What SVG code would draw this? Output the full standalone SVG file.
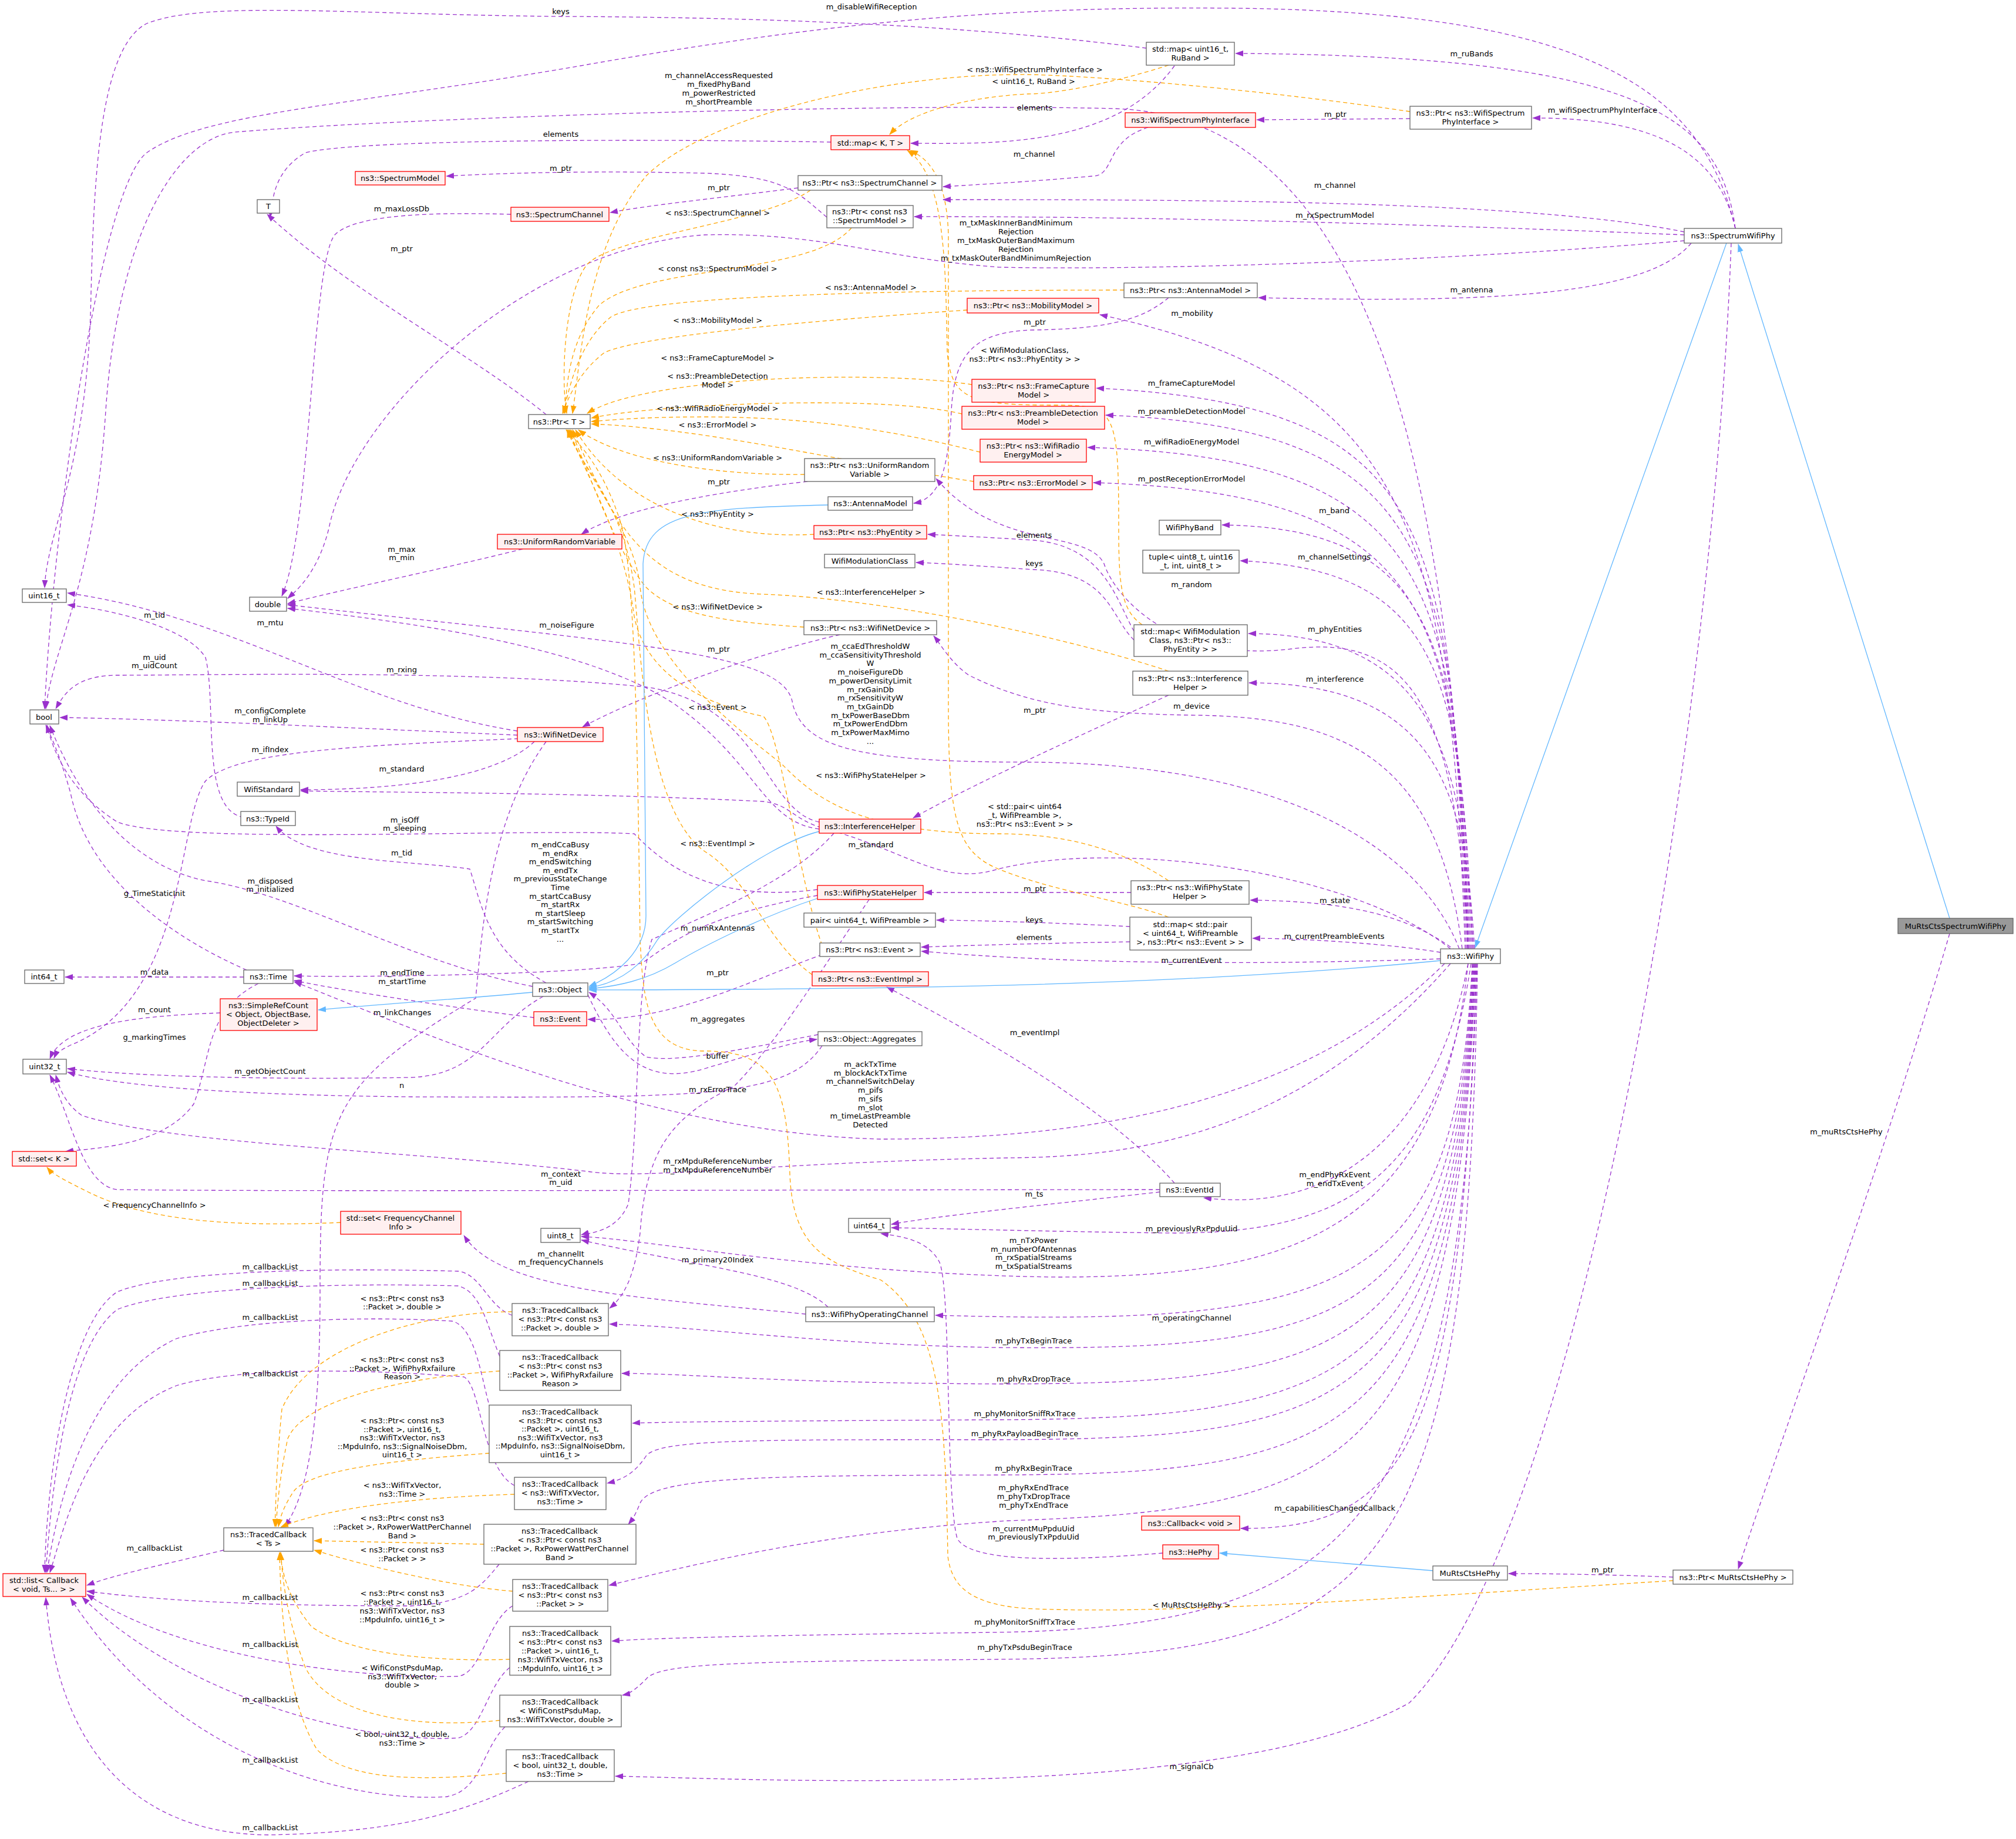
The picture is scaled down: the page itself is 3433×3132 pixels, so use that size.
<svg xmlns="http://www.w3.org/2000/svg" width="3433" height="3132" viewBox="0 0 3433 3132">
<style>
text{font-family:"DejaVu Sans","Liberation Sans",sans-serif;font-size:13px;fill:#000;text-anchor:middle}
.n rect{fill:#fff;stroke:#666;stroke-width:1.3}
.r rect{fill:#fff0f0;stroke:#f00;stroke-width:1.3}
.g rect{fill:#999;stroke:#666;stroke-width:1.3}
.p{fill:none;stroke:#9a32cd;stroke-width:1.3;stroke-dasharray:7,5;marker-end:url(#ap)}
.o{fill:none;stroke:#ffa500;stroke-width:1.3;stroke-dasharray:7,5;marker-end:url(#ao)}
.b{fill:none;stroke:#63b8ff;stroke-width:1.3;marker-end:url(#ab)}
</style>
<defs>
<marker id="ap" markerWidth="14" markerHeight="10" refX="13" refY="5" orient="auto" markerUnits="userSpaceOnUse"><path d="M0,0 L14,5 L0,10 z" fill="#9a32cd"/></marker>
<marker id="ao" markerWidth="14" markerHeight="10" refX="13" refY="5" orient="auto" markerUnits="userSpaceOnUse"><path d="M0,0 L14,5 L0,10 z" fill="#ffa500"/></marker>
<marker id="ab" markerWidth="14" markerHeight="10" refX="13" refY="5" orient="auto" markerUnits="userSpaceOnUse"><path d="M0,0 L14,5 L0,10 z" fill="#63b8ff"/></marker>
</defs>
<rect width="3433" height="3132" fill="#fff"/>
<g id="edges">
<path class="p" d="M1952,82 C1700,50 1400,30 955,28 C600,25 350,0 250,40 C170,80 160,300 155,500 C150,800 80,900 76,1001"/>
<path class="p" d="M2955,389 C2900,150 2700,20 2100,14 C1700,10 1400,40 1000,110 C600,180 350,190 250,260 C170,320 90,900 76,1207"/>
<path class="p" d="M2500,1616 C2470,700 2300,200 1900,185 C1500,175 700,200 400,225 C300,235 200,400 180,700 C160,1000 90,1100 78,1207"/>
<path class="p" d="M2000,112 C1900,250 1700,245 1551,244"/>
<path class="p" d="M1415,242 C1000,235 600,240 520,260 C470,290 465,330 460,370"/>
<path class="p" d="M2955,389 C2930,200 2800,95 2104,91"/>
<path class="p" d="M2955,389 C2930,280 2850,200 2610,201"/>
<path class="p" d="M2401,202 L2140,204"/>
<path class="p" d="M1955,217 C1880,240 1900,300 1860,300 C1750,310 1650,315 1606,318"/>
<path class="p" d="M2868,395 C2600,340 2000,340 1606,340"/>
<path class="p" d="M2868,400 C2500,385 2000,368 1557,369"/>
<path class="p" d="M2868,410 C2400,450 1900,460 1700,455 C1500,440 1400,395 1200,400 C900,420 600,700 560,900 C540,980 500,1010 490,1019"/>
<path class="p" d="M2880,414 C2800,510 2500,515 2143,507"/>
<path class="p" d="M1990,507 C1950,540 1900,560 1760,562 C1660,565 1625,600 1620,700 C1615,800 1600,850 1556,857"/>
<path class="p" d="M2495,1616 C2470,900 2400,650 1873,536"/>
<path class="p" d="M2497,1616 C2470,900 2450,690 1867,661"/>
<path class="p" d="M2499,1616 C2475,950 2450,730 1883,707"/>
<path class="p" d="M2501,1616 C2480,1000 2450,780 1852,762"/>
<path class="p" d="M2503,1616 C2480,1050 2450,840 1862,822"/>
<path class="p" d="M2505,1616 C2485,1100 2450,900 2081,894"/>
<path class="p" d="M2507,1616 C2490,1150 2450,970 2112,955"/>
<path class="p" d="M2500,1616 C2480,1200 2400,1080 2200,1105 C2000,1130 1900,1020 1880,960 C1850,900 1700,940 1594,815"/>
<path class="p" d="M1931,1075 C1900,1020 1880,930 1760,920 C1680,915 1620,912 1580,910"/>
<path class="p" d="M1931,1090 C1890,1050 1890,975 1760,970 C1680,965 1620,960 1560,958"/>
<path class="p" d="M2509,1616 C2490,1300 2450,1080 2126,1079"/>
<path class="p" d="M2511,1616 C2495,1350 2450,1163 2127,1163"/>
<path class="p" d="M2490,1616 C2450,1300 2300,1220 2029,1218 C1850,1215 1750,1200 1650,1150 C1620,1130 1600,1095 1590,1083"/>
<path class="p" d="M2485,1616 C2420,1450 2200,1300 1750,1298 C1450,1298 1370,1270 1350,1200 C1340,1110 1100,1100 490,1030"/>
<path class="p" d="M2480,1620 C2400,1560 2300,1535 2129,1533"/>
<path class="p" d="M2453,1622 C2350,1605 2200,1598 2133,1598"/>
<path class="p" d="M1924,1578 C1850,1574 1700,1568 1595,1567"/>
<path class="p" d="M1924,1604 C1800,1606 1650,1610 1569,1613"/>
<path class="p" d="M2453,1633 C2100,1645 1800,1640 1569,1620"/>
<path class="p" d="M2470,1616 C2300,1480 1900,1430 1700,1480 C1600,1510 1550,1450 1400,1410 C1350,1395 1345,1370 1300,1365 C1000,1350 700,1350 512,1347"/>
<path class="p" d="M1392,1515 C1200,1540 1120,1460 1080,1420 C900,1410 300,1440 200,1400 C120,1350 90,1280 80,1235"/>
<path class="p" d="M1392,1525 C1200,1560 1150,1600 1094,1640 C1000,1660 600,1665 501,1662"/>
<path class="p" d="M1359,320 C1200,340 1100,350 1039,362"/>
<path class="p" d="M1408,370 C1360,330 1340,300 1200,295 C1000,290 850,295 760,300"/>
<path class="p" d="M870,365 C700,360 600,370 570,400 C530,450 530,900 480,1015"/>
<path class="p" d="M930,706 C800,600 600,500 455,365"/>
<path class="p" d="M1375,820 C1200,840 1050,870 990,910"/>
<path class="p" d="M890,935 C750,970 600,1000 490,1028"/>
<path class="p" d="M1430,1081 C1300,1110 1100,1180 992,1238"/>
<path class="p" d="M1990,1184 C1800,1270 1650,1340 1555,1393"/>
<path class="p" d="M1926,1520 L1574,1520"/>
<path class="p" d="M3320,1590 C3200,2000 3050,2400 2960,2672"/>
<path class="p" d="M2948,414 C2920,1200 2700,2600 2400,2900 C2100,3070 1300,3030 1048,3025"/>
<path class="p" d="M2849,2686 C2750,2682 2650,2680 2569,2680"/>
<path class="p" d="M415,1392 C340,1380 370,1200 350,1120 C320,1070 200,1040 115,1030"/>
<path class="p" d="M881,1245 C600,1200 400,1050 115,1010"/>
<path class="p" d="M1395,1400 C1300,1380 1300,1200 1100,1170 C800,1140 350,1150 200,1150 C130,1150 110,1180 95,1207"/>
<path class="p" d="M881,1252 C600,1240 300,1225 102,1222"/>
<path class="p" d="M883,1258 C600,1270 400,1280 350,1330 C300,1400 320,1700 120,1780 C100,1790 95,1795 92,1802"/>
<path class="p" d="M910,1263 C850,1320 700,1345 512,1345"/>
<path class="p" d="M930,1263 C830,1400 820,1600 810,1700 C560,1850 545,1900 545,2200 C545,2450 520,2550 485,2600"/>
<path class="p" d="M1395,1412 C1300,1400 1290,1300 1150,1200 C1000,1100 700,1060 490,1036"/>
<path class="p" d="M1420,1419 C1350,1500 1200,1560 1110,1600 C1080,1700 1090,1900 1070,2050 C1050,2100 1000,2100 990,2103"/>
<path class="p" d="M420,1652 C300,1600 150,1500 120,1350 C100,1280 85,1250 78,1235"/>
<path class="p" d="M907,1680 C700,1640 500,1520 350,1500 C250,1480 150,1400 85,1236"/>
<path class="p" d="M930,1674 C830,1620 820,1540 800,1480 C700,1465 520,1470 470,1407"/>
<path class="p" d="M415,1664 L111,1664"/>
<path class="p" d="M375,1725 C250,1730 110,1740 85,1803"/>
<path class="p" d="M440,1675 C350,1720 360,1800 330,1880 C280,1950 170,1955 112,1961"/>
<path class="p" d="M925,1697 C830,1750 820,1830 700,1835 C400,1840 200,1830 115,1820"/>
<path class="p" d="M1400,1781 C1340,1870 1200,1870 700,1868 C400,1865 200,1850 115,1826"/>
<path class="p" d="M1001,1694 C1050,1800 1100,1850 1200,1820 C1300,1790 1350,1775 1391,1770"/>
<path class="p" d="M1393,1762 C1250,1790 1150,1810 1100,1800 C1060,1770 1050,1720 1003,1690"/>
<path class="p" d="M1400,1626 C1300,1660 1150,1740 1001,1736"/>
<path class="p" d="M909,1733 C800,1720 600,1690 501,1670"/>
<path class="p" d="M1480,1532 C1400,1650 1320,1780 1250,1850 C1150,1900 1100,1950 1090,2100 C1080,2180 1060,2210 1038,2228"/>
<path class="p" d="M2000,2015 C1900,1900 1700,1780 1510,1681"/>
<path class="p" d="M2500,1641 C2450,1900 2300,2070 2050,2040"/>
<path class="p" d="M1975,2030 C1800,2050 1600,2070 1518,2085"/>
<path class="p" d="M1975,2026 C1500,2026 500,2030 200,2026 C140,2020 120,1900 85,1831"/>
<path class="p" d="M2505,1641 C2450,2000 2300,2100 2000,2100 C1800,2098 1600,2092 1518,2091"/>
<path class="p" d="M2500,1641 C2450,2100 2200,2175 1800,2175 C1400,2170 1100,2110 990,2106"/>
<path class="p" d="M1372,2238 C1100,2210 850,2200 790,2104"/>
<path class="p" d="M1410,2226 C1350,2170 1200,2160 990,2112"/>
<path class="p" d="M2507,1641 C2480,2200 2300,2260 1593,2240"/>
<path class="p" d="M2508,1641 C2480,2250 2300,2300 1700,2295 C1400,2290 1200,2260 1038,2255"/>
<path class="p" d="M2509,1641 C2480,2300 2300,2357 1700,2357 C1300,2355 1200,2340 1059,2339"/>
<path class="p" d="M2510,1641 C2480,2350 2300,2415 1700,2418 C1300,2420 1100,2422 1077,2424"/>
<path class="p" d="M2511,1641 C2480,2400 2300,2450 1700,2452 C1300,2452 1120,2450 1100,2480 C1080,2510 1060,2520 1034,2526"/>
<path class="p" d="M2512,1641 C2480,2450 2300,2510 1700,2512 C1300,2513 1110,2515 1090,2560 C1080,2585 1075,2590 1070,2596"/>
<path class="p" d="M2513,1641 C2480,2500 2300,2570 1716,2590 C1400,2610 1200,2660 1037,2700"/>
<path class="p" d="M2514,1641 C2490,2450 2400,2605 2113,2603"/>
<path class="p" d="M1980,2645 C1800,2660 1650,2660 1630,2620 C1610,2550 1620,2200 1600,2150 C1580,2110 1530,2105 1500,2101"/>
<path class="p" d="M2515,1641 C2490,2600 2300,2770 1700,2780 C1300,2785 1100,2790 1042,2795"/>
<path class="p" d="M2516,1641 C2500,2700 2350,2820 1700,2826 C1300,2830 1120,2830 1100,2860 C1080,2880 1070,2885 1060,2887"/>
<path class="p" d="M2460,1641 C2200,1900 1800,1940 1500,1940 C1100,1930 700,1750 501,1672"/>
<path class="p" d="M2470,1641 C2200,1950 1900,1970 1716,1972 C1300,1980 1100,2010 1000,1995 C700,1960 300,1950 140,1900 C110,1880 100,1850 95,1831"/>
<path class="p" d="M381,2640 C300,2660 200,2680 148,2700"/>
<path class="p" d="M872,2240 C830,2225 820,2170 780,2165 C600,2160 300,2160 200,2200 C120,2250 80,2500 76,2678"/>
<path class="p" d="M851,2310 C830,2260 820,2200 780,2190 C600,2185 300,2190 200,2230 C120,2290 90,2500 78,2678"/>
<path class="p" d="M835,2400 C820,2350 810,2260 770,2250 C600,2240 400,2250 300,2280 C150,2350 100,2550 80,2678"/>
<path class="p" d="M876,2530 C820,2500 820,2360 790,2345 C600,2330 400,2330 300,2360 C150,2420 110,2600 85,2678"/>
<path class="p" d="M850,2664 C820,2700 800,2730 700,2735 C500,2735 300,2730 148,2710"/>
<path class="p" d="M873,2735 C830,2760 820,2850 780,2855 C600,2860 300,2820 148,2715"/>
<path class="p" d="M868,2840 C830,2870 820,2950 780,2960 C600,2970 300,2880 140,2720"/>
<path class="p" d="M860,2941 C820,2980 820,3050 760,3060 C600,3070 300,3000 120,2722"/>
<path class="p" d="M900,3034 C800,3080 700,3120 460,3125 C250,3125 100,3000 78,2721"/>
<path class="o" d="M2401,190 C2200,160 1900,130 1750,127 C1500,125 1200,200 1100,300 C1000,420 990,600 975,704"/>
<path class="o" d="M1990,111 C1900,140 1800,160 1750,160 C1650,165 1550,190 1515,229"/>
<path class="o" d="M1380,324 C1300,380 1050,400 1000,450 C960,500 955,650 965,704"/>
<path class="o" d="M1450,388 C1380,470 1100,450 1020,520 C970,580 965,650 962,704"/>
<path class="o" d="M1914,494 C1600,494 1100,500 1040,540 C990,580 970,650 960,704"/>
<path class="o" d="M1647,528 C1400,545 1100,570 1030,600 C990,630 970,670 958,704"/>
<path class="o" d="M1945,1064 C1910,1040 1905,1000 1905,900 C1905,700 1900,690 1800,690 C1650,690 1620,680 1613,600 C1610,450 1610,300 1545,256"/>
<path class="o" d="M1655,655 C1500,630 1100,640 1000,704"/>
<path class="o" d="M1638,705 C1500,670 1100,690 1007,712"/>
<path class="o" d="M1669,770 C1550,740 1400,710 1200,710 C1100,710 1040,715 1007,718"/>
<path class="o" d="M1658,820 C1400,780 1200,730 1007,722"/>
<path class="o" d="M1370,808 C1200,810 1050,780 985,732"/>
<path class="o" d="M1386,910 C1200,920 1050,850 980,732"/>
<path class="o" d="M1990,1143 C1800,1080 1500,1020 1300,1012 C1100,1005 1050,900 975,732"/>
<path class="o" d="M1369,1068 C1250,1060 1150,1050 1100,1000 C1050,940 1000,800 972,732"/>
<path class="o" d="M1400,1610 C1360,1500 1330,1250 1300,1220 C1200,1200 1100,1150 1080,1050 C1060,900 990,800 970,732"/>
<path class="o" d="M1990,1500 C1900,1440 1800,1420 1700,1420 C1450,1420 1380,1350 1330,1300 C1200,1200 1100,1100 1090,1000 C1080,900 990,800 968,732"/>
<path class="o" d="M1990,1562 C1900,1530 1800,1520 1700,1480 C1630,1450 1615,1400 1615,1200 L1615,400 C1612,300 1580,270 1550,256"/>
<path class="o" d="M1383,1660 C1300,1600 1280,1500 1200,1450 C1100,1380 1090,1100 1080,1000 C1060,850 990,800 966,732"/>
<path class="o" d="M2849,2692 C2400,2720 2000,2750 1760,2740 C1650,2735 1620,2700 1614,2650 C1610,2400 1600,2250 1500,2180 C1400,2150 1350,2120 1345,2000 C1340,1850 1320,1790 1200,1790 C1100,1790 1095,1700 1090,1600 C1085,1200 1080,1000 1060,900 C1030,800 990,760 964,732"/>
<path class="o" d="M872,2234 C700,2235 520,2300 480,2400 C470,2500 470,2560 468,2600"/>
<path class="o" d="M851,2335 C700,2345 520,2380 490,2450 C475,2520 472,2570 470,2600"/>
<path class="o" d="M833,2475 C700,2485 530,2500 500,2540 C480,2570 476,2590 474,2600"/>
<path class="o" d="M876,2545 C700,2550 550,2570 478,2601"/>
<path class="o" d="M824,2630 L535,2624"/>
<path class="o" d="M873,2710 C750,2700 600,2660 535,2640"/>
<path class="o" d="M868,2826 C750,2830 600,2820 530,2770 C490,2720 480,2680 478,2644"/>
<path class="o" d="M851,2930 C700,2945 560,2920 520,2840 C490,2760 482,2700 478,2644"/>
<path class="o" d="M862,3020 C750,3030 600,3040 540,2980 C490,2900 478,2750 476,2644"/>
<path class="o" d="M580,2082 C400,2090 250,2080 150,2030 C110,2010 90,2000 80,1988"/>
<path class="b" d="M2940,414 L2512,1614"/>
<path class="b" d="M3320,1564 L2960,416"/>
<path class="b" d="M2453,1636 C2000,1680 1500,1685 1003,1686"/>
<path class="b" d="M1410,860 C1200,865 1100,870 1095,960 L1100,1560 C1100,1620 1050,1660 1003,1680"/>
<path class="b" d="M1395,1416 C1300,1440 1150,1560 1120,1600 C1090,1650 1050,1675 1003,1682"/>
<path class="b" d="M1392,1530 C1300,1560 1200,1610 1150,1640 C1100,1670 1050,1680 1003,1684"/>
<path class="b" d="M907,1690 C800,1700 650,1710 542,1720"/>
<path class="b" d="M2440,2675 L2077,2645"/>
</g>
<g id="labels">
<text x="955" y="24">keys</text>
<text x="1484" y="16">m_disableWifiReception</text>
<text x="1224" y="133">m_channelAccessRequested<tspan x="1224" dy="15">m_fixedPhyBand</tspan><tspan x="1224" dy="15">m_powerRestricted</tspan><tspan x="1224" dy="15">m_shortPreamble</tspan></text>
<text x="1762" y="188">elements</text>
<text x="955" y="233">elements</text>
<text x="2506" y="96">m_ruBands</text>
<text x="2729" y="192">m_wifiSpectrumPhyInterface</text>
<text x="2274" y="199">m_ptr</text>
<text x="1761" y="267">m_channel</text>
<text x="2273" y="320">m_channel</text>
<text x="2273" y="371">m_rxSpectrumModel</text>
<text x="1730" y="384">m_txMaskInnerBandMinimum<tspan x="1730" dy="15">Rejection</tspan><tspan x="1730" dy="15">m_txMaskOuterBandMaximum</tspan><tspan x="1730" dy="15">Rejection</tspan><tspan x="1730" dy="15">m_txMaskOuterBandMinimumRejection</tspan></text>
<text x="2506" y="498">m_antenna</text>
<text x="1762" y="553">m_ptr</text>
<text x="2030" y="538">m_mobility</text>
<text x="2029" y="657">m_frameCaptureModel</text>
<text x="2029" y="705">m_preambleDetectionModel</text>
<text x="2029" y="757">m_wifiRadioEnergyModel</text>
<text x="2029" y="820">m_postReceptionErrorModel</text>
<text x="2272" y="874">m_band</text>
<text x="1761" y="916">elements</text>
<text x="1761" y="964">keys</text>
<text x="2272" y="953">m_channelSettings</text>
<text x="2029" y="1000">m_random</text>
<text x="2273" y="1076">m_phyEntities</text>
<text x="2273" y="1161">m_interference</text>
<text x="2029" y="1207">m_device</text>
<text x="1482" y="1105">m_ccaEdThresholdW<tspan x="1482" dy="14.7">m_ccaSensitivityThreshold</tspan><tspan x="1482" dy="14.7">W</tspan><tspan x="1482" dy="14.7">m_noiseFigureDb</tspan><tspan x="1482" dy="14.7">m_powerDensityLimit</tspan><tspan x="1482" dy="14.7">m_rxGainDb</tspan><tspan x="1482" dy="14.7">m_rxSensitivityW</tspan><tspan x="1482" dy="14.7">m_txGainDb</tspan><tspan x="1482" dy="14.7">m_txPowerBaseDbm</tspan><tspan x="1482" dy="14.7">m_txPowerEndDbm</tspan><tspan x="1482" dy="14.7">m_txPowerMaxMimo</tspan><tspan x="1482" dy="14.7">...</tspan></text>
<text x="2273" y="1538">m_state</text>
<text x="2272" y="1599">m_currentPreambleEvents</text>
<text x="1761" y="1571">keys</text>
<text x="1761" y="1601">elements</text>
<text x="2029" y="1640">m_currentEvent</text>
<text x="1483" y="1443">m_standard</text>
<text x="689" y="1401">m_isOff<tspan x="689" dy="14">m_sleeping</tspan></text>
<text x="954" y="1443">m_endCcaBusy<tspan x="954" dy="14.6">m_endRx</tspan><tspan x="954" dy="14.6">m_endSwitching</tspan><tspan x="954" dy="14.6">m_endTx</tspan><tspan x="954" dy="14.6">m_previousStateChange</tspan><tspan x="954" dy="14.6">Time</tspan><tspan x="954" dy="14.6">m_startCcaBusy</tspan><tspan x="954" dy="14.6">m_startRx</tspan><tspan x="954" dy="14.6">m_startSleep</tspan><tspan x="954" dy="14.6">m_startSwitching</tspan><tspan x="954" dy="14.6">m_startTx</tspan><tspan x="954" dy="14.6">...</tspan></text>
<text x="1224" y="324">m_ptr</text>
<text x="955" y="291">m_ptr</text>
<text x="684" y="360">m_maxLossDb</text>
<text x="684" y="428">m_ptr</text>
<text x="1224" y="825">m_ptr</text>
<text x="684" y="940">m_max<tspan x="684" dy="14">m_min</tspan></text>
<text x="1224" y="1110">m_ptr</text>
<text x="1762" y="1214">m_ptr</text>
<text x="1762" y="1518">m_ptr</text>
<text x="3144" y="1932">m_muRtsCtsHePhy</text>
<text x="2029" y="3013">m_signalCb</text>
<text x="2729" y="2678">m_ptr</text>
<text x="263" y="1052">m_tid</text>
<text x="460" y="1065">m_mtu</text>
<text x="263" y="1124">m_uid<tspan x="263" dy="14">m_uidCount</tspan></text>
<text x="684" y="1145">m_rxing</text>
<text x="460" y="1215">m_configComplete<tspan x="460" dy="15">m_linkUp</tspan></text>
<text x="460" y="1281">m_ifIndex</text>
<text x="684" y="1314">m_standard</text>
<text x="965" y="1069">m_noiseFigure</text>
<text x="263" y="1526">g_TimeStaticInit</text>
<text x="460" y="1505">m_disposed<tspan x="460" dy="14">m_initialized</tspan></text>
<text x="684" y="1457">m_tid</text>
<text x="263" y="1660">m_data</text>
<text x="263" y="1724">m_count</text>
<text x="263" y="1771">g_markingTimes</text>
<text x="460" y="1829">m_getObjectCount</text>
<text x="684" y="1853">n</text>
<text x="1222" y="1740">m_aggregates</text>
<text x="1222" y="1803">buffer</text>
<text x="1222" y="1860">m_rxErrorTrace</text>
<text x="1222" y="1585">m_numRxAntennas</text>
<text x="1222" y="1661">m_ptr</text>
<text x="685" y="1661">m_endTime<tspan x="685" dy="15">m_startTime</tspan></text>
<text x="685" y="1729">m_linkChanges</text>
<text x="1482" y="1817">m_ackTxTime<tspan x="1482" dy="14.7">m_blockAckTxTime</tspan><tspan x="1482" dy="14.7">m_channelSwitchDelay</tspan><tspan x="1482" dy="14.7">m_pifs</tspan><tspan x="1482" dy="14.7">m_sifs</tspan><tspan x="1482" dy="14.7">m_slot</tspan><tspan x="1482" dy="14.7">m_timeLastPreamble</tspan><tspan x="1482" dy="14.7">Detected</tspan></text>
<text x="1222" y="1982">m_rxMpduReferenceNumber<tspan x="1222" dy="15">m_txMpduReferenceNumber</tspan></text>
<text x="955" y="2004">m_context<tspan x="955" dy="14">m_uid</tspan></text>
<text x="1762" y="1763">m_eventImpl</text>
<text x="2273" y="2005">m_endPhyRxEvent<tspan x="2273" dy="15">m_endTxEvent</tspan></text>
<text x="1761" y="2038">m_ts</text>
<text x="2029" y="2097">m_previouslyRxPpduUid</text>
<text x="1760" y="2117">m_nTxPower<tspan x="1760" dy="14.7">m_numberOfAntennas</tspan><tspan x="1760" dy="14.7">m_rxSpatialStreams</tspan><tspan x="1760" dy="14.7">m_txSpatialStreams</tspan></text>
<text x="955" y="2140">m_channelIt<tspan x="955" dy="14">m_frequencyChannels</tspan></text>
<text x="1222" y="2150">m_primary20Index</text>
<text x="2029" y="2249">m_operatingChannel</text>
<text x="1760" y="2288">m_phyTxBeginTrace</text>
<text x="1760" y="2353">m_phyRxDropTrace</text>
<text x="1745" y="2412">m_phyMonitorSniffRxTrace</text>
<text x="1745" y="2446">m_phyRxPayloadBeginTrace</text>
<text x="1760" y="2505">m_phyRxBeginTrace</text>
<text x="1760" y="2538">m_phyRxEndTrace<tspan x="1760" dy="15">m_phyTxDropTrace</tspan><tspan x="1760" dy="15">m_phyTxEndTrace</tspan></text>
<text x="2273" y="2573">m_capabilitiesChangedCallback</text>
<text x="1760" y="2608">m_currentMuPpduUid<tspan x="1760" dy="14">m_previouslyTxPpduUid</tspan></text>
<text x="1745" y="2767">m_phyMonitorSniffTxTrace</text>
<text x="1745" y="2810">m_phyTxPsduBeginTrace</text>
<text x="263" y="2641">m_callbackList</text>
<text x="460" y="2162">m_callbackList</text>
<text x="460" y="2190">m_callbackList</text>
<text x="460" y="2248">m_callbackList</text>
<text x="460" y="2344">m_callbackList</text>
<text x="460" y="2725">m_callbackList</text>
<text x="460" y="2805">m_callbackList</text>
<text x="460" y="2899">m_callbackList</text>
<text x="460" y="3002">m_callbackList</text>
<text x="460" y="3117">m_callbackList</text>
<text x="1762" y="123">&lt; ns3::WifiSpectrumPhyInterface &gt;</text>
<text x="1760" y="143">&lt; uint16_t, RuBand &gt;</text>
<text x="1222" y="367">&lt; ns3::SpectrumChannel &gt;</text>
<text x="1222" y="462">&lt; const ns3::SpectrumModel &gt;</text>
<text x="1483" y="494">&lt; ns3::AntennaModel &gt;</text>
<text x="1222" y="550">&lt; ns3::MobilityModel &gt;</text>
<text x="1745" y="601">&lt; WifiModulationClass,<tspan x="1745" dy="15">ns3::Ptr&lt; ns3::PhyEntity &gt; &gt;</tspan></text>
<text x="1222" y="614">&lt; ns3::FrameCaptureModel &gt;</text>
<text x="1222" y="645">&lt; ns3::PreambleDetection<tspan x="1222" dy="15">Model &gt;</tspan></text>
<text x="1222" y="700">&lt; ns3::WifiRadioEnergyModel &gt;</text>
<text x="1222" y="728">&lt; ns3::ErrorModel &gt;</text>
<text x="1222" y="784">&lt; ns3::UniformRandomVariable &gt;</text>
<text x="1222" y="880">&lt; ns3::PhyEntity &gt;</text>
<text x="1483" y="1013">&lt; ns3::InterferenceHelper &gt;</text>
<text x="1222" y="1038">&lt; ns3::WifiNetDevice &gt;</text>
<text x="1222" y="1209">&lt; ns3::Event &gt;</text>
<text x="1483" y="1325">&lt; ns3::WifiPhyStateHelper &gt;</text>
<text x="1745" y="1378">&lt; std::pair&lt; uint64<tspan x="1745" dy="15">_t, WifiPreamble &gt;,</tspan><tspan x="1745" dy="15">ns3::Ptr&lt; ns3::Event &gt; &gt;</tspan></text>
<text x="1222" y="1441">&lt; ns3::EventImpl &gt;</text>
<text x="2029" y="2738">&lt; MuRtsCtsHePhy &gt;</text>
<text x="685" y="2216">&lt; ns3::Ptr&lt; const ns3<tspan x="685" dy="14">::Packet &gt;, double &gt;</tspan></text>
<text x="685" y="2320">&lt; ns3::Ptr&lt; const ns3<tspan x="685" dy="14.5">::Packet &gt;, WifiPhyRxfailure</tspan><tspan x="685" dy="14.5">Reason &gt;</tspan></text>
<text x="685" y="2424">&lt; ns3::Ptr&lt; const ns3<tspan x="685" dy="14.5">::Packet &gt;, uint16_t,</tspan><tspan x="685" dy="14.5">ns3::WifiTxVector, ns3</tspan><tspan x="685" dy="14.5">::MpduInfo, ns3::SignalNoiseDbm,</tspan><tspan x="685" dy="14.5">uint16_t &gt;</tspan></text>
<text x="685" y="2534">&lt; ns3::WifiTxVector,<tspan x="685" dy="15">ns3::Time &gt;</tspan></text>
<text x="685" y="2590">&lt; ns3::Ptr&lt; const ns3<tspan x="685" dy="15">::Packet &gt;, RxPowerWattPerChannel</tspan><tspan x="685" dy="15">Band &gt;</tspan></text>
<text x="685" y="2644">&lt; ns3::Ptr&lt; const ns3<tspan x="685" dy="15">::Packet &gt; &gt;</tspan></text>
<text x="685" y="2718">&lt; ns3::Ptr&lt; const ns3<tspan x="685" dy="15">::Packet &gt;, uint16_t,</tspan><tspan x="685" dy="15">ns3::WifiTxVector, ns3</tspan><tspan x="685" dy="15">::MpduInfo, uint16_t &gt;</tspan></text>
<text x="685" y="2845">&lt; WifiConstPsduMap,<tspan x="685" dy="14.5">ns3::WifiTxVector,</tspan><tspan x="685" dy="14.5">double &gt;</tspan></text>
<text x="685" y="2958">&lt; bool, uint32_t, double,<tspan x="685" dy="15">ns3::Time &gt;</tspan></text>
<text x="263" y="2057">&lt; FrequencyChannelInfo &gt;</text>
</g>
<g id="n1" class="r"><rect x="1415" y="231" width="134" height="24"/><text x="1482" y="248">std::map&lt; K, T &gt;</text></g>
<g id="n2" class="r"><rect x="605" y="292" width="153" height="23"/><text x="681" y="308">ns3::SpectrumModel</text></g>
<g id="n3" class="n"><rect x="1359" y="299" width="245" height="25"/><text x="1481" y="316">ns3::Ptr&lt; ns3::SpectrumChannel &gt;</text></g>
<g id="n4" class="n"><rect x="438" y="340" width="38" height="23"/><text x="457" y="356">T</text></g>
<g id="n5" class="r"><rect x="870" y="353" width="167" height="24"/><text x="953" y="370">ns3::SpectrumChannel</text></g>
<g id="n6" class="n"><rect x="1408" y="350" width="147" height="38"/><text x="1481" y="365">ns3::Ptr&lt; const ns3<tspan x="1481" dy="15">::SpectrumModel &gt;</tspan></text></g>
<g id="n7" class="n"><rect x="900" y="706" width="105" height="24"/><text x="952" y="723">ns3::Ptr&lt; T &gt;</text></g>
<g id="n8" class="n"><rect x="1370" y="781" width="222" height="39"/><text x="1481" y="797">ns3::Ptr&lt; ns3::UniformRandom<tspan x="1481" dy="15">Variable &gt;</tspan></text></g>
<g id="n9" class="n"><rect x="1410" y="846" width="144" height="23"/><text x="1482" y="862">ns3::AntennaModel</text></g>
<g id="n10" class="r"><rect x="1386" y="895" width="192" height="23"/><text x="1482" y="911">ns3::Ptr&lt; ns3::PhyEntity &gt;</text></g>
<g id="n11" class="n"><rect x="1404" y="944" width="154" height="23"/><text x="1481" y="960">WifiModulationClass</text></g>
<g id="n12" class="r"><rect x="847" y="910" width="212" height="25"/><text x="953" y="927">ns3::UniformRandomVariable</text></g>
<g id="n13" class="n"><rect x="38" y="1003" width="75" height="23"/><text x="75" y="1019">uint16_t</text></g>
<g id="n14" class="n"><rect x="425" y="1017" width="63" height="24"/><text x="456" y="1034">double</text></g>
<g id="n15" class="n"><rect x="1369" y="1057" width="226" height="24"/><text x="1482" y="1074">ns3::Ptr&lt; ns3::WifiNetDevice &gt;</text></g>
<g id="n16" class="n"><rect x="51" y="1209" width="49" height="24"/><text x="75" y="1226">bool</text></g>
<g id="n17" class="r"><rect x="881" y="1239" width="146" height="24"/><text x="954" y="1256">ns3::WifiNetDevice</text></g>
<g id="n18" class="n"><rect x="404" y="1332" width="106" height="24"/><text x="457" y="1349">WifiStandard</text></g>
<g id="n19" class="n"><rect x="410" y="1382" width="93" height="24"/><text x="456" y="1399">ns3::TypeId</text></g>
<g id="n20" class="r"><rect x="1395" y="1395" width="173" height="24"/><text x="1481" y="1412">ns3::InterferenceHelper</text></g>
<g id="n21" class="r"><rect x="1392" y="1508" width="180" height="24"/><text x="1482" y="1525">ns3::WifiPhyStateHelper</text></g>
<g id="n22" class="n"><rect x="1952" y="72" width="150" height="39"/><text x="2027" y="88">std::map&lt; uint16_t,<tspan x="2027" dy="15">RuBand &gt;</tspan></text></g>
<g id="n23" class="n"><rect x="2401" y="181" width="207" height="39"/><text x="2504" y="197">ns3::Ptr&lt; ns3::WifiSpectrum<tspan x="2504" dy="15">PhyInterface &gt;</tspan></text></g>
<g id="n24" class="r"><rect x="1916" y="192" width="222" height="25"/><text x="2027" y="209">ns3::WifiSpectrumPhyInterface</text></g>
<g id="n25" class="n"><rect x="2868" y="389" width="166" height="25"/><text x="2951" y="406">ns3::SpectrumWifiPhy</text></g>
<g id="n26" class="n"><rect x="1914" y="482" width="227" height="25"/><text x="2027" y="499">ns3::Ptr&lt; ns3::AntennaModel &gt;</text></g>
<g id="n27" class="r"><rect x="1647" y="508" width="224" height="25"/><text x="1759" y="525">ns3::Ptr&lt; ns3::MobilityModel &gt;</text></g>
<g id="n28" class="r"><rect x="1655" y="646" width="210" height="39"/><text x="1760" y="662">ns3::Ptr&lt; ns3::FrameCapture<tspan x="1760" dy="15">Model &gt;</tspan></text></g>
<g id="n29" class="r"><rect x="1638" y="692" width="243" height="39"/><text x="1759" y="708">ns3::Ptr&lt; ns3::PreambleDetection<tspan x="1759" dy="15">Model &gt;</tspan></text></g>
<g id="n30" class="r"><rect x="1669" y="748" width="181" height="39"/><text x="1759" y="764">ns3::Ptr&lt; ns3::WifiRadio<tspan x="1759" dy="15">EnergyModel &gt;</tspan></text></g>
<g id="n31" class="r"><rect x="1658" y="810" width="202" height="24"/><text x="1759" y="827">ns3::Ptr&lt; ns3::ErrorModel &gt;</text></g>
<g id="n32" class="n"><rect x="1974" y="886" width="105" height="25"/><text x="2026" y="903">WifiPhyBand</text></g>
<g id="n33" class="n"><rect x="1946" y="937" width="164" height="39"/><text x="2028" y="953">tuple&lt; uint8_t, uint16<tspan x="2028" dy="15">_t, int, uint8_t &gt;</tspan></text></g>
<g id="n34" class="n"><rect x="1931" y="1064" width="193" height="54"/><text x="2027" y="1080">std::map&lt; WifiModulation<tspan x="2027" dy="15">Class, ns3::Ptr&lt; ns3::</tspan><tspan x="2027" dy="15">PhyEntity &gt; &gt;</tspan></text></g>
<g id="n35" class="n"><rect x="1929" y="1143" width="196" height="41"/><text x="2027" y="1160">ns3::Ptr&lt; ns3::Interference<tspan x="2027" dy="15">Helper &gt;</tspan></text></g>
<g id="n36" class="n"><rect x="1926" y="1500" width="201" height="40"/><text x="2026" y="1516">ns3::Ptr&lt; ns3::WifiPhyState<tspan x="2026" dy="15">Helper &gt;</tspan></text></g>
<g id="n37" class="n"><rect x="1924" y="1562" width="207" height="56"/><text x="2027" y="1579">std::map&lt; std::pair<tspan x="2027" dy="15">&lt; uint64_t, WifiPreamble</tspan><tspan x="2027" dy="15">&gt;, ns3::Ptr&lt; ns3::Event &gt; &gt;</tspan></text></g>
<g id="n38" class="n"><rect x="2453" y="1616" width="102" height="25"/><text x="2504" y="1633">ns3::WifiPhy</text></g>
<g id="n39" class="g"><rect x="3232" y="1564" width="196" height="26"/><text x="3330" y="1582">MuRtsCtsSpectrumWifiPhy</text></g>
<g id="n40" class="n"><rect x="1369" y="1555" width="224" height="24"/><text x="1481" y="1572">pair&lt; uint64_t, WifiPreamble &gt;</text></g>
<g id="n41" class="n"><rect x="1396" y="1606" width="171" height="23"/><text x="1481" y="1622">ns3::Ptr&lt; ns3::Event &gt;</text></g>
<g id="n42" class="r"><rect x="1383" y="1655" width="198" height="24"/><text x="1482" y="1672">ns3::Ptr&lt; ns3::EventImpl &gt;</text></g>
<g id="n43" class="n"><rect x="42" y="1652" width="67" height="23"/><text x="75" y="1668">int64_t</text></g>
<g id="n44" class="n"><rect x="415" y="1652" width="84" height="23"/><text x="457" y="1668">ns3::Time</text></g>
<g id="n45" class="n"><rect x="907" y="1674" width="94" height="23"/><text x="954" y="1690">ns3::Object</text></g>
<g id="n46" class="r"><rect x="375" y="1701" width="165" height="54"/><text x="457" y="1717">ns3::SimpleRefCount<tspan x="457" dy="15">&lt; Object, ObjectBase,</tspan><tspan x="457" dy="15">ObjectDeleter &gt;</tspan></text></g>
<g id="n47" class="r"><rect x="909" y="1723" width="90" height="24"/><text x="954" y="1740">ns3::Event</text></g>
<g id="n48" class="n"><rect x="1393" y="1757" width="177" height="24"/><text x="1481" y="1774">ns3::Object::Aggregates</text></g>
<g id="n49" class="n"><rect x="39" y="1804" width="74" height="25"/><text x="76" y="1821">uint32_t</text></g>
<g id="n50" class="r"><rect x="21" y="1961" width="109" height="25"/><text x="75" y="1978">std::set&lt; K &gt;</text></g>
<g id="n51" class="r"><rect x="580" y="2063" width="205" height="39"/><text x="682" y="2079">std::set&lt; FrequencyChannel<tspan x="682" dy="15">Info &gt;</tspan></text></g>
<g id="n52" class="n"><rect x="921" y="2092" width="67" height="24"/><text x="954" y="2109">uint8_t</text></g>
<g id="n53" class="n"><rect x="1445" y="2075" width="71" height="24"/><text x="1480" y="2092">uint64_t</text></g>
<g id="n54" class="n"><rect x="1975" y="2015" width="103" height="23"/><text x="2026" y="2031">ns3::EventId</text></g>
<g id="n55" class="n"><rect x="1372" y="2226" width="219" height="25"/><text x="1481" y="2243">ns3::WifiPhyOperatingChannel</text></g>
<g id="n56" class="n"><rect x="872" y="2220" width="164" height="55"/><text x="954" y="2236">ns3::TracedCallback<tspan x="954" dy="15">&lt; ns3::Ptr&lt; const ns3</tspan><tspan x="954" dy="15">::Packet &gt;, double &gt;</tspan></text></g>
<g id="n57" class="n"><rect x="851" y="2300" width="206" height="68"/><text x="954" y="2316">ns3::TracedCallback<tspan x="954" dy="15">&lt; ns3::Ptr&lt; const ns3</tspan><tspan x="954" dy="15">::Packet &gt;, WifiPhyRxfailure</tspan><tspan x="954" dy="15">Reason &gt;</tspan></text></g>
<g id="n58" class="n"><rect x="833" y="2393" width="242" height="98"/><text x="954" y="2409">ns3::TracedCallback<tspan x="954" dy="14.6">&lt; ns3::Ptr&lt; const ns3</tspan><tspan x="954" dy="14.6">::Packet &gt;, uint16_t,</tspan><tspan x="954" dy="14.6">ns3::WifiTxVector, ns3</tspan><tspan x="954" dy="14.6">::MpduInfo, ns3::SignalNoiseDbm,</tspan><tspan x="954" dy="14.6">uint16_t &gt;</tspan></text></g>
<g id="n59" class="n"><rect x="876" y="2516" width="156" height="55"/><text x="954" y="2532">ns3::TracedCallback<tspan x="954" dy="15">&lt; ns3::WifiTxVector,</tspan><tspan x="954" dy="15">ns3::Time &gt;</tspan></text></g>
<g id="n60" class="n"><rect x="381" y="2602" width="152" height="40"/><text x="457" y="2618">ns3::TracedCallback<tspan x="457" dy="15">&lt; Ts &gt;</tspan></text></g>
<g id="n61" class="n"><rect x="824" y="2596" width="259" height="68"/><text x="953" y="2612">ns3::TracedCallback<tspan x="953" dy="15">&lt; ns3::Ptr&lt; const ns3</tspan><tspan x="953" dy="15">::Packet &gt;, RxPowerWattPerChannel</tspan><tspan x="953" dy="15">Band &gt;</tspan></text></g>
<g id="n62" class="r"><rect x="5" y="2680" width="141" height="39"/><text x="75" y="2696">std::list&lt; Callback<tspan x="75" dy="15">&lt; void, Ts... &gt; &gt;</tspan></text></g>
<g id="n63" class="n"><rect x="873" y="2690" width="162" height="54"/><text x="954" y="2706">ns3::TracedCallback<tspan x="954" dy="15">&lt; ns3::Ptr&lt; const ns3</tspan><tspan x="954" dy="15">::Packet &gt; &gt;</tspan></text></g>
<g id="n64" class="n"><rect x="868" y="2770" width="172" height="83"/><text x="954" y="2786">ns3::TracedCallback<tspan x="954" dy="15">&lt; ns3::Ptr&lt; const ns3</tspan><tspan x="954" dy="15">::Packet &gt;, uint16_t,</tspan><tspan x="954" dy="15">ns3::WifiTxVector, ns3</tspan><tspan x="954" dy="15">::MpduInfo, uint16_t &gt;</tspan></text></g>
<g id="n65" class="n"><rect x="851" y="2887" width="207" height="54"/><text x="954" y="2903">ns3::TracedCallback<tspan x="954" dy="15">&lt; WifiConstPsduMap,</tspan><tspan x="954" dy="15">ns3::WifiTxVector, double &gt;</tspan></text></g>
<g id="n66" class="n"><rect x="862" y="2980" width="184" height="54"/><text x="954" y="2996">ns3::TracedCallback<tspan x="954" dy="15">&lt; bool, uint32_t, double,</tspan><tspan x="954" dy="15">ns3::Time &gt;</tspan></text></g>
<g id="n67" class="r"><rect x="1944" y="2582" width="167" height="24"/><text x="2027" y="2599">ns3::Callback&lt; void &gt;</text></g>
<g id="n68" class="r"><rect x="1980" y="2631" width="95" height="24"/><text x="2027" y="2648">ns3::HePhy</text></g>
<g id="n69" class="n"><rect x="2440" y="2667" width="127" height="24"/><text x="2503" y="2684">MuRtsCtsHePhy</text></g>
<g id="n70" class="n"><rect x="2849" y="2674" width="204" height="24"/><text x="2951" y="2691">ns3::Ptr&lt; MuRtsCtsHePhy &gt;</text></g>
</svg>
